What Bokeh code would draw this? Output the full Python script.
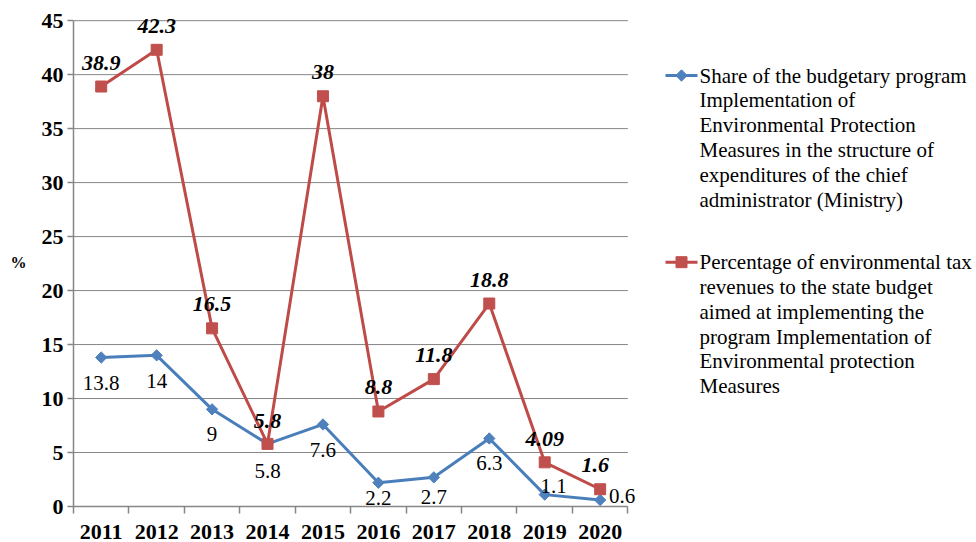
import math
from bokeh.plotting import figure
from bokeh.models import Range1d, FixedTicker, ColumnDataSource, LabelSet
from bokeh.layouts import row
from bokeh.embed import file_html
from bokeh.resources import INLINE
from bokeh.core.properties import value

# ---- data ----
years = ["2011", "2012", "2013", "2014", "2015", "2016", "2017", "2018", "2019", "2020"]
share_program = [13.8, 14, 9, 5.8, 7.6, 2.2, 2.7, 6.3, 1.1, 0.6]
tax_percentage = [38.9, 42.3, 16.5, 5.8, 38, 8.8, 11.8, 18.8, 4.09, 1.6]
y_ticks = [0, 5, 10, 15, 20, 25, 30, 35, 40, 45]
legend_share = ["Share of the budgetary program", "Implementation of",
                "Environmental Protection", "Measures in the structure of",
                "expenditures of the chief", "administrator (Ministry)"]
legend_tax = ["Percentage of environmental tax", "revenues to the state budget",
              "aimed at implementing the", "program Implementation of",
              "Environmental protection", "Measures"]

# ---- styles / label placement ----
BLUE_LINE = "#4a7ebb"
BLUE_MARK = "#4f81bd"
RED_LINE = "#be4b48"
RED_MARK = "#c0504d"
GRID = "#868686"
FONT = "Liberation Serif"
share_dx = [0, 0, 0, 0, 0, 0, 0, 0, 9, 22]
share_dy = [-25, -26, -25, -27, -26, -15, -20, -25, 9, 4]
tax_dx = [0, 0, 0, 0, 0, 0, 0, 0, 0, -5]
tax_dy = [24, 24, 24, 23, 24, 24, 24, 24, 23, 24]

H = 542
TOP = 18
BOTTOM = 36
n = len(years)
xs = [i + 1 for i in range(n)]

src_share = ColumnDataSource(dict(x=xs, y=share_program,
                                  lab=[f"{v:g}" for v in share_program],
                                  dx=share_dx, dy=share_dy))
src_tax = ColumnDataSource(dict(x=xs, y=tax_percentage,
                                lab=[f"{v:g}" for v in tax_percentage],
                                dx=tax_dx, dy=tax_dy))
src_grid = ColumnDataSource(dict(y=y_ticks, x0=[0.5] * len(y_ticks),
                                 x1=[n + 0.5] * len(y_ticks)))

p = figure(width=646, height=H, x_range=Range1d(0.5, n + 0.8),
           y_range=Range1d(0, 45.2), toolbar_location=None, output_backend="svg",
           min_border_left=73, min_border_right=2, min_border_top=TOP,
           min_border_bottom=BOTTOM)
p.outline_line_color = None
p.background_fill_color = "white"

# axes
xax = p.xaxis[0]
xax.bounds = (0.5, n + 0.5)
xax.ticker = FixedTicker(ticks=xs, minor_ticks=[i + 0.5 for i in range(n + 1)])
xax.major_label_overrides = {x: y for x, y in zip(xs, years)}
xax.major_tick_line_color = None
xax.major_tick_out = 7
xax.major_tick_in = 0
xax.minor_tick_out = 7
xax.minor_tick_in = 0
xax.minor_tick_line_color = GRID
xax.minor_tick_line_width = 1.5
xax.axis_line_color = GRID
xax.axis_line_width = 1.5
xax.major_label_text_font = FONT
xax.major_label_text_font_style = "bold"
xax.major_label_text_font_size = "22px"
xax.major_label_text_color = "black"
xax.major_label_standoff = 11

yax = p.yaxis[0]
yax.bounds = (0, 45)
yax.ticker = FixedTicker(ticks=y_ticks)
yax.major_tick_out = 6
yax.major_tick_in = 0
yax.major_tick_line_color = GRID
yax.major_tick_line_width = 1.5
yax.minor_tick_line_color = None
yax.axis_line_color = GRID
yax.axis_line_width = 1.5
yax.major_label_text_font = FONT
yax.major_label_text_font_style = "bold"
yax.major_label_text_font_size = "22px"
yax.major_label_text_color = "black"
yax.major_label_standoff = 4
yax.axis_label = "%"
yax.axis_label_orientation = "horizontal"
yax.axis_label_text_font = FONT
yax.axis_label_text_font_style = "bold"
yax.axis_label_text_font_size = "16px"
yax.axis_label_text_color = "black"
yax.axis_label_standoff = 12

p.xgrid.grid_line_color = None
p.ygrid.grid_line_color = None
p.segment(x0="x0", y0="y", x1="x1", y1="y", source=src_grid,
          line_color=GRID, line_width=1)

# series
p.line("x", "y", source=src_share, line_color=BLUE_LINE, line_width=3, line_join="round")
p.scatter("x", "y", source=src_share, marker="square", angle=math.pi / 4, size=8,
          fill_color=BLUE_MARK, line_color=BLUE_MARK)
p.line("x", "y", source=src_tax, line_color=RED_LINE, line_width=3, line_join="round")
p.scatter("x", "y", source=src_tax, marker="square", size=11,
          fill_color=RED_MARK, line_color=RED_MARK)

p.add_layout(LabelSet(x="x", y="y", text="lab", source=src_share,
                      x_offset="dx", y_offset="dy", text_align="center",
                      text_baseline="middle", text_font=value(FONT),
                      text_font_size="21px", text_color="black"))
p.add_layout(LabelSet(x="x", y="y", text="lab", source=src_tax,
                      x_offset="dx", y_offset="dy", text_align="center",
                      text_baseline="middle", text_font=value(FONT),
                      text_font_size="22px", text_font_style="bold italic",
                      text_color="black"))

# ---- legend panel (its frame is aligned with the main frame by the row) ----
LW = 329
L = figure(width=LW, height=H, x_range=Range1d(0, LW), y_range=Range1d(H - BOTTOM, TOP),
           toolbar_location=None, output_backend="svg", x_axis_type=None,
           y_axis_type=None, min_border_left=0, min_border_right=0,
           min_border_top=TOP, min_border_bottom=BOTTOM)
L.outline_line_color = None
L.xgrid.visible = False
L.ygrid.visible = False

line_h = 24.8
entries = [(legend_share, 75, BLUE_LINE, BLUE_MARK, math.pi / 4, 8),
           (legend_tax, 261.7, RED_LINE, RED_MARK, 0, 11)]
for lines, y0, lc, mc, ang, sz in entries:
    L.segment(x0=[19], y0=[y0], x1=[51], y1=[y0], line_color=lc, line_width=3)
    L.scatter(x=[35], y=[y0], marker="square", angle=ang, size=sz,
              fill_color=mc, line_color=mc)
    L.text(x=[53] * len(lines), y=[y0 + k * line_h for k in range(len(lines))],
           text=lines, text_baseline="middle", text_align="left",
           text_font=value(FONT), text_font_size="21px", text_color="black")

layout = row(p, L)
open("out.html", "w").write(file_html(layout, INLINE))
